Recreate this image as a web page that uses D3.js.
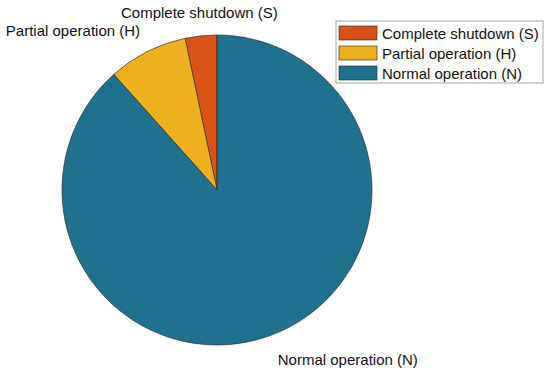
<!DOCTYPE html>
<html lang="en">
  <head>
    <meta charset="utf-8" />
    <title>Operation states pie</title>
    <script src="https://cdn.jsdelivr.net/npm/d3@7"></script>
    <style>
      body { margin: 0; background: #fff; }
      text { font-family: "Liberation Sans", Arial, sans-serif; }
    </style>
  </head>
  <body>
    <div id="root"></div>
    <script type="text/javascript">
      // data (percent)
      const categories = ["Complete shutdown (S)", "Partial operation (H)", "Normal operation (N)"];
      const shares = [3.3, 8.3, 88.4];
      const colors = ["#D95319", "#EDB120", "#20718E"];

      const width = 550;
      const height = 373;
      const cx = 217;
      const cy = 190;
      const radius = 155;
      const fontSize = 15;

      const svg = d3.select("#root").append("svg")
        .attr("width", width)
        .attr("height", height);

      const data = categories.map((c, i) => ({ name: c, value: shares[i], color: colors[i] }));

      // MATLAB-style: start at 12 o'clock, go counter-clockwise
      const pie = d3.pie()
        .value(d => d.value)
        .sort(null)
        .startAngle(0)
        .endAngle(-2 * Math.PI);

      const arc = d3.arc().innerRadius(0).outerRadius(radius);
      const arcs = pie(data);

      const g = svg.append("g").attr("transform", `translate(${cx},${cy})`);

      g.selectAll("path")
        .data(arcs)
        .join("path")
        .attr("d", arc)
        .attr("fill", d => d.data.color)
        .attr("stroke", "#222")
        .attr("stroke-width", 0.6);

      // labels just outside the pie
      const labelR = radius * 1.1;
      g.selectAll("text.lbl")
        .data(arcs)
        .join("text")
        .attr("class", "lbl")
        .each(function (d) {
          const a = (d.startAngle + d.endAngle) / 2;
          const x = labelR * Math.sin(a);
          const y = -labelR * Math.cos(a);
          const s = Math.sin(a);
          let anchor = "middle";
          if (s < -0.3) anchor = "end";
          else if (s > 0.3) anchor = "start";
          const t = d3.select(this)
            .attr("x", x)
            .attr("text-anchor", anchor)
            .attr("font-size", fontSize)
            .attr("fill", "#111")
            .text(d.data.name);
          if (Math.cos(a) > 0) t.attr("y", y - 2);
          else t.attr("y", y + 16);
        });

      // legend
      const lx = 336, ly = 21, lw = 207, lh = 62;
      const legend = svg.append("g");
      legend.append("rect")
        .attr("x", lx).attr("y", ly)
        .attr("width", lw).attr("height", lh)
        .attr("fill", "#fff")
        .attr("stroke", "#a6a6a6")
        .attr("stroke-width", 1);

      const rows = legend.selectAll("g.row")
        .data(data)
        .join("g")
        .attr("class", "row")
        .attr("transform", (d, i) => `translate(${lx + 3},${ly + 5 + i * 20})`);

      rows.append("rect")
        .attr("width", 38).attr("height", 14)
        .attr("fill", d => d.color)
        .attr("stroke", "#222")
        .attr("stroke-width", 0.6);

      rows.append("text")
        .attr("x", 43)
        .attr("y", 12.5)
        .attr("font-size", fontSize)
        .attr("fill", "#111")
        .text(d => d.name);
    </script>
  </body>
</html>
